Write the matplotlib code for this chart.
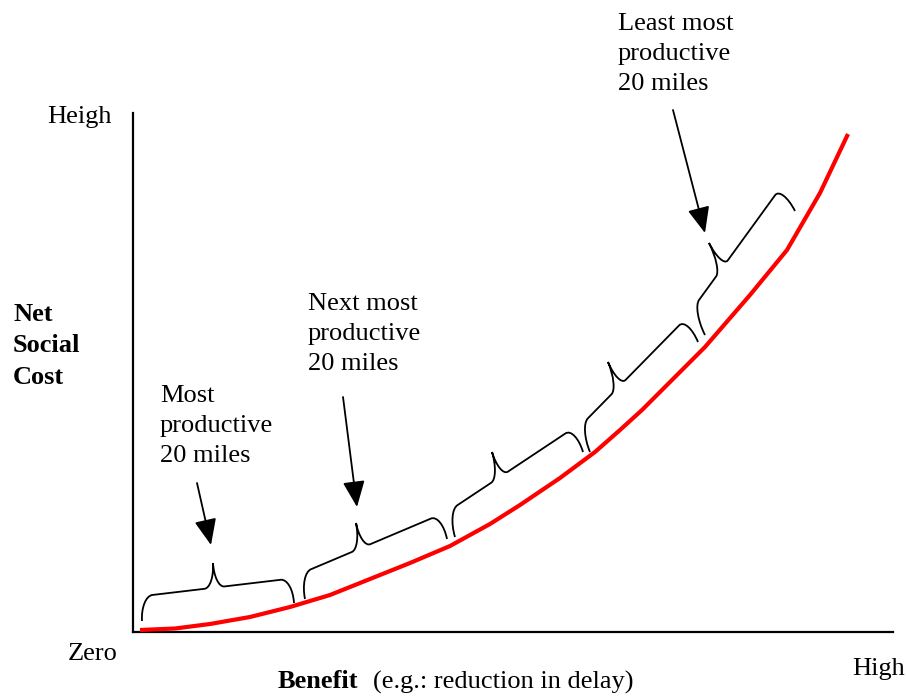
import numpy as np
import matplotlib.pyplot as plt
from matplotlib.path import Path
from matplotlib.patches import PathPatch

# net social cost curve (benefit, cost), units measured from the origin of the axes
benefit = [7, 42, 77, 117, 157, 197, 237, 277, 317, 357, 387, 427, 462, 487, 509,
           542, 572, 617, 654, 687, 715]
cost = [2, 3.5, 8, 15, 25, 37, 53, 69, 86, 108, 127, 154, 180, 202, 222,
        255, 285, 337, 382, 439, 498]

# 20-mile segments along the curve: start, end and tip of each brace
seg_start = [(9, 11), (172, 33), (322, 95), (457, 180), (572, 297)]
seg_end = [(161, 29), (314, 93), (450, 180), (565, 290), (662, 421)]
seg_tip = [(80, 69), (223, 109), (359, 180), (475, 270), (576, 389)]

# label text, anchor (left, middle) and arrow start -> end
labels = ['Most\nproductive\n20 miles',
          'Next most\nproductive\n20 miles',
          'Least most\nproductive\n20 miles']
label_pos = [(27, 206), (175, 298), (485, 578)]
arrow_from = [(64, 149), (210, 235), (540, 522)]
arrow_to = [(78, 87), (224, 125), (572, 399)]

FONT = 'Liberation Serif'
FS = 19
LS = 1.45


def brace(ax, p0, p1, tip, c=12.0, ct=10.0, **kw):
    p0, p1, tip = (np.asarray(p, dtype=float) for p in (p0, p1, tip))
    d = p1 - p0
    L = np.hypot(*d)
    dh = d / L
    n = np.array([-dh[1], dh[0]])
    up = np.array([0.0, 1.0]) + n
    up /= np.hypot(*up)
    m, s = np.linalg.solve(np.column_stack([dh, up]), tip - p0)
    w = up * s / 2.0
    k = 0.55
    local = [(0, 0), (0, k), (c * (1 - k), 1), (c, 1),
             (m - ct, 1),
             (m - ct * (1 - k), 1), (m, 2 - k), (m, 2),
             (m, 2 - k), (m + ct * (1 - k), 1), (m + ct, 1),
             (L - c, 1),
             (L - c * (1 - k), 1), (L, k), (L, 0)]
    codes = ([Path.MOVETO] + [Path.CURVE4] * 3 + [Path.LINETO] + [Path.CURVE4] * 6
             + [Path.LINETO] + [Path.CURVE4] * 3)
    pts = [p0 + u * dh + v * w for u, v in local]
    ax.add_patch(PathPatch(Path(pts, codes), fill=False, **kw))


fig = plt.figure(figsize=(9.07, 6.96), dpi=100)
ax = fig.add_axes([133 / 907, 64 / 696, 760 / 907, 519 / 696])
ax.set_xlim(0, 760)
ax.set_ylim(0, 519)
for side in ['top', 'right']:
    ax.spines[side].set_visible(False)
for side in ['left', 'bottom']:
    ax.spines[side].set_linewidth(1.6)
ax.set_xticks([])
ax.set_yticks([])

ax.plot(benefit, cost, color='#ff0000', lw=3, solid_capstyle='butt',
        solid_joinstyle='round', zorder=3)

for p0, p1, tp in zip(seg_start, seg_end, seg_tip):
    brace(ax, p0, p1, tp, color='black', lw=1.3, zorder=4)

for txt, pos, a, b in zip(labels, label_pos, arrow_from, arrow_to):
    ax.text(pos[0], pos[1], txt, family=FONT, fontsize=FS, ha='left', va='center',
            linespacing=LS)
    ax.annotate('', xy=b, xytext=a,
                arrowprops=dict(arrowstyle='-|>,head_length=0.8,head_width=0.34',
                                mutation_scale=20, color='black', lw=1.3,
                                shrinkA=0, shrinkB=0))

ax.text(-21, 515, 'Heigh', family=FONT, fontsize=FS, ha='right', va='center')
ax.text(-120, 286, 'Net\nSocial\nCost', family=FONT, fontsize=FS, fontweight='bold',
        ha='left', va='center', linespacing=LS)
ax.text(-65, -22, 'Zero', family=FONT, fontsize=FS, ha='left', va='center')
ax.text(719, -37, 'High', family=FONT, fontsize=FS, ha='left', va='center')
ax.text(145, -50, 'Benefit', family=FONT, fontsize=FS, fontweight='bold',
        ha='left', va='center')
ax.text(240, -50, '(e.g.: reduction in delay)', family=FONT, fontsize=FS,
        ha='left', va='center')

fig.savefig('out.png', dpi=100)
